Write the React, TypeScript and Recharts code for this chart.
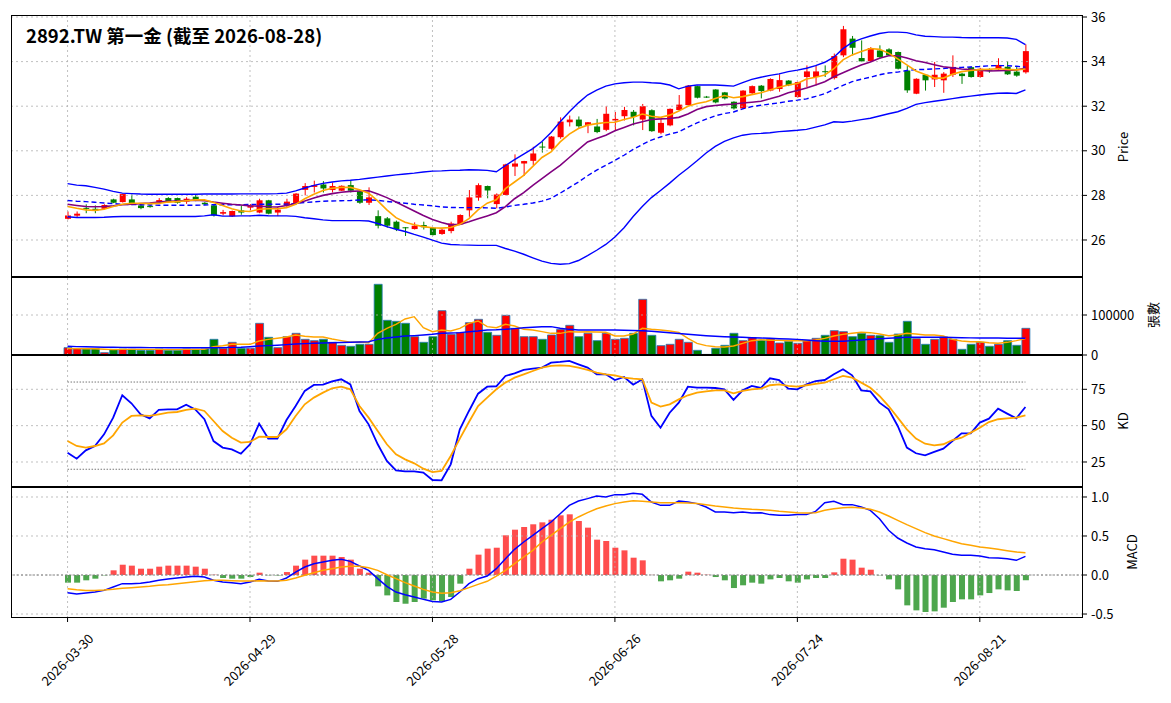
import { Bar, Cell, ComposedChart, Line, ReferenceLine, XAxis, YAxis } from "recharts";

// trading days (Taiwan calendar)
const dates = [
  "2026-03-30", "2026-03-31", "2026-04-01", "2026-04-02", "2026-04-07", "2026-04-08", "2026-04-09", "2026-04-10",
  "2026-04-13", "2026-04-14", "2026-04-15", "2026-04-16", "2026-04-17", "2026-04-20", "2026-04-21", "2026-04-22",
  "2026-04-23", "2026-04-24", "2026-04-27", "2026-04-28", "2026-04-29", "2026-04-30", "2026-05-04", "2026-05-05",
  "2026-05-06", "2026-05-07", "2026-05-08", "2026-05-11", "2026-05-12", "2026-05-13", "2026-05-14", "2026-05-15",
  "2026-05-18", "2026-05-19", "2026-05-20", "2026-05-21", "2026-05-22", "2026-05-25", "2026-05-26", "2026-05-27",
  "2026-05-28", "2026-05-29", "2026-06-01", "2026-06-02", "2026-06-03", "2026-06-04", "2026-06-05", "2026-06-08",
  "2026-06-09", "2026-06-10", "2026-06-11", "2026-06-12", "2026-06-15", "2026-06-16", "2026-06-17", "2026-06-18",
  "2026-06-22", "2026-06-23", "2026-06-24", "2026-06-25", "2026-06-26", "2026-06-29", "2026-06-30", "2026-07-01",
  "2026-07-02", "2026-07-03", "2026-07-06", "2026-07-07", "2026-07-08", "2026-07-09", "2026-07-10", "2026-07-13",
  "2026-07-14", "2026-07-15", "2026-07-16", "2026-07-17", "2026-07-20", "2026-07-21", "2026-07-22", "2026-07-23",
  "2026-07-24", "2026-07-27", "2026-07-28", "2026-07-29", "2026-07-30", "2026-07-31", "2026-08-03", "2026-08-04",
  "2026-08-05", "2026-08-06", "2026-08-07", "2026-08-10", "2026-08-11", "2026-08-12", "2026-08-13", "2026-08-14",
  "2026-08-17", "2026-08-18", "2026-08-19", "2026-08-20", "2026-08-21", "2026-08-24", "2026-08-25", "2026-08-26",
  "2026-08-27", "2026-08-28",
];
const tickDates = ["2026-03-30", "2026-04-29", "2026-05-28", "2026-06-26", "2026-07-24", "2026-08-21"];

const opens = [
  26.95, 27.09, 27.44, 27.4, 27.4, 27.82, 27.7, 27.82, 27.55, 27.52,
  27.67, 27.88, 27.88, 27.72, 27.94, 27.67, 27.55, 27.18, 27.06, 27.33,
  27.45, 27.23, 27.78, 27.23, 27.55, 27.63, 28.25, 28.38, 28.49, 28.24,
  28.21, 28.46, 28.19, 27.67, 27.07, 26.97, 26.82, 26.57, 26.49, 26.67,
  26.55, 26.27, 26.4, 26.7, 27.33, 27.9, 28.42, 27.61, 28.02, 29.29,
  29.43, 29.55, 30.19, 30.09, 30.61, 31.28, 31.4, 31.16, 31.09, 30.94,
  31.36, 31.55, 31.75, 31.4, 31.82, 30.81, 31.14, 31.83, 32.05, 32.9,
  32.43, 32.75, 32.62, 32.2, 31.9, 32.58, 32.92, 32.7, 32.77, 33.15,
  32.41, 33.31, 33.31, 33.57, 33.26, 34.28, 35.03, 34.16, 34.02, 34.5,
  34.55, 34.43, 33.6, 32.56, 33.41, 33.2, 33.16, 33.41, 33.46, 33.75,
  33.31, 33.64, 33.66, 33.77, 33.55, 33.52,
];
const highs = [
  27.28, 27.28, 27.6, 27.55, 27.6, 27.85, 28.08, 28.04, 27.6, 27.58,
  27.88, 27.92, 27.9, 27.92, 28.03, 27.7, 27.57, 27.35, 27.32, 27.55,
  27.61, 27.85, 27.8, 27.48, 27.85, 28.1, 28.55, 28.66, 28.64, 28.58,
  28.45, 28.69, 28.2, 28.36, 27.33, 27.03, 26.87, 26.58, 26.79, 26.82,
  26.57, 26.5, 26.82, 27.15, 28.24, 28.54, 28.44, 28.09, 29.42, 29.84,
  29.55, 30.18, 30.4, 30.66, 31.5, 31.58, 31.54, 31.29, 31.43, 32.0,
  31.74, 31.97, 31.83, 32.1, 31.86, 31.5, 31.9, 32.5, 32.95, 32.92,
  32.46, 32.76, 32.64, 32.22, 32.72, 32.93, 32.95, 33.25, 33.43, 33.17,
  33.1, 33.83, 33.83, 33.83, 34.36, 35.6, 35.15, 34.95, 34.65, 34.73,
  34.6, 34.45, 33.8, 33.25, 33.42, 33.98, 33.53, 34.28, 33.5, 33.78,
  33.72, 33.7, 34.15, 34.02, 33.77, 34.77,
];
const lows = [
  26.92, 27.03, 27.2, 27.2, 27.38, 27.65, 27.68, 27.56, 27.38, 27.45,
  27.63, 27.7, 27.63, 27.62, 27.74, 27.58, 27.05, 27.1, 27.03, 27.13,
  27.33, 27.2, 27.15, 27.07, 27.48, 27.6, 28.0, 28.13, 28.13, 28.13,
  28.2, 28.13, 27.62, 27.57, 26.52, 26.55, 26.4, 26.18, 26.47, 26.47,
  26.2, 26.23, 26.3, 26.68, 27.04, 27.76, 27.87, 27.42, 28.0, 28.87,
  28.87, 29.36, 29.92, 30.05, 30.54, 31.09, 31.03, 30.79, 30.79, 30.88,
  30.92, 31.36, 31.14, 30.93, 30.85, 30.74, 31.1, 31.8, 32.03, 32.35,
  32.37, 32.13, 32.3, 31.85, 31.87, 32.55, 32.35, 32.67, 32.65, 32.9,
  32.38, 32.86, 32.93, 33.31, 33.2, 34.2, 34.28, 33.98, 34.0, 34.13,
  34.25, 33.65, 32.6, 32.54, 32.7, 32.86, 32.6, 33.31, 33.0, 33.28,
  33.28, 33.5, 33.62, 33.4, 33.32, 33.46,
];
const closes = [
  27.1, 27.18, 27.4, 27.32, 27.57, 27.67, 28.06, 27.61, 27.43, 27.48,
  27.79, 27.73, 27.67, 27.85, 27.79, 27.6, 27.1, 27.25, 27.3, 27.23,
  27.55, 27.78, 27.18, 27.36, 27.72, 28.08, 28.42, 28.46, 28.31, 28.42,
  28.43, 28.21, 27.67, 27.91, 26.64, 26.64, 26.49, 26.56, 26.64, 26.57,
  26.22, 26.46, 26.74, 27.12, 27.91, 28.46, 28.22, 28.04, 29.39, 29.43,
  29.54, 29.88, 30.15, 30.64, 31.31, 31.4, 31.1, 31.28, 30.84, 31.66,
  31.43, 31.83, 31.52, 32.0, 30.88, 31.25, 31.88, 32.07, 32.92, 32.38,
  32.39, 32.17, 32.35, 31.9, 32.7, 32.9, 32.68, 33.22, 33.17, 32.94,
  33.08, 33.56, 33.56, 33.55, 34.25, 35.45, 34.62, 34.01, 34.61, 34.2,
  34.28, 33.68, 32.71, 33.23, 33.16, 33.41, 33.46, 33.76, 33.35, 33.31,
  33.68, 33.6, 33.85, 33.43, 33.37, 34.47,
];
const ma5 = [
  27.5, 27.42, 27.35, 27.33, 27.38, 27.5, 27.6, 27.65, 27.65, 27.63,
  27.64, 27.7, 27.72, 27.76, 27.8, 27.8, 27.68, 27.55, 27.4, 27.3,
  27.28, 27.38, 27.4, 27.4, 27.45, 27.6, 27.85, 28.05, 28.22, 28.32,
  28.36, 28.36, 28.25, 28.1, 27.75, 27.35, 27.0, 26.8, 26.68, 26.6,
  26.55, 26.53, 26.56, 26.7, 26.96, 27.35, 27.65, 27.8, 28.3, 28.6,
  28.9, 29.3, 29.7, 29.95, 30.4, 30.75, 31.0, 31.15, 31.22, 31.27,
  31.28, 31.4, 31.5, 31.65, 31.55, 31.5, 31.6, 31.78, 32.0, 32.12,
  32.2, 32.35, 32.48, 32.38, 32.43, 32.52, 32.6, 32.73, 32.85, 32.95,
  33.02, 33.22, 33.3, 33.4, 33.68, 34.08, 34.3, 34.45, 34.59, 34.55,
  34.38, 34.12, 33.85, 33.58, 33.42, 33.26, 33.26, 33.43, 33.55, 33.6,
  33.64, 33.66, 33.68, 33.65, 33.63, 33.67,
];
const ma10 = [
  27.6, 27.55, 27.5, 27.49, 27.5, 27.53, 27.58, 27.6, 27.63, 27.66,
  27.7, 27.73, 27.75, 27.77, 27.78, 27.76, 27.7, 27.65, 27.6, 27.57,
  27.53, 27.52, 27.49, 27.48, 27.55, 27.63, 27.75, 27.88, 28.0, 28.08,
  28.14, 28.18, 28.2, 28.21, 28.06, 27.9, 27.7, 27.5, 27.3, 27.1,
  26.92, 26.78, 26.68, 26.7, 26.82, 26.95, 27.08, 27.22, 27.5, 27.85,
  28.12, 28.45, 28.75, 29.05, 29.35, 29.7, 30.05, 30.4, 30.55, 30.7,
  30.9, 31.05, 31.2, 31.3, 31.4, 31.43, 31.45, 31.5, 31.65, 31.85,
  31.98, 32.03, 32.07, 32.1, 32.14, 32.18, 32.22, 32.33, 32.45, 32.6,
  32.7, 32.82, 32.95, 33.1, 33.32, 33.5, 33.68, 33.85, 33.98, 34.15,
  34.26, 34.26, 34.16, 34.04, 33.96, 33.86, 33.77, 33.72, 33.67, 33.64,
  33.61, 33.58, 33.59, 33.6, 33.63, 33.7,
];
const bbUpper = [
  28.53, 28.46, 28.43, 28.36, 28.28, 28.18, 28.1, 28.08, 28.06, 28.05,
  28.05, 28.05, 28.05, 28.05, 28.05, 28.06, 28.06, 28.06, 28.06, 28.07,
  28.07, 28.07, 28.07, 28.08, 28.1, 28.2, 28.33, 28.45, 28.54, 28.6,
  28.65, 28.68, 28.72, 28.77, 28.82, 28.87, 28.92, 28.96, 29.0, 29.05,
  29.09, 29.1, 29.12, 29.13, 29.15, 29.14, 29.12, 29.06, 29.34, 29.6,
  29.85, 30.1, 30.42, 30.82, 31.3, 31.75, 32.15, 32.5, 32.72, 32.9,
  33.0, 33.05, 33.08, 33.08, 33.05, 33.03, 32.95, 32.78, 32.9, 32.95,
  32.95, 32.95, 32.93, 32.9, 33.06, 33.2, 33.3, 33.38, 33.45, 33.55,
  33.62, 33.7, 33.82, 33.97, 34.2, 34.58, 34.86, 35.02, 35.15, 35.26,
  35.32, 35.32, 35.3, 35.2, 35.14, 35.12, 35.1, 35.1, 35.08, 35.07,
  35.07, 35.07, 35.07, 35.06, 35.0, 34.76,
];
const bbMid = [
  27.77, 27.74, 27.72, 27.69, 27.66, 27.63, 27.6, 27.59, 27.58, 27.57,
  27.56, 27.56, 27.56, 27.56, 27.56, 27.57, 27.58, 27.58, 27.58, 27.58,
  27.59, 27.6, 27.6, 27.6, 27.61, 27.64, 27.68, 27.71, 27.74, 27.75,
  27.76, 27.77, 27.79, 27.8, 27.78, 27.73, 27.69, 27.65, 27.6, 27.57,
  27.53, 27.48, 27.46, 27.45, 27.45, 27.45, 27.44, 27.42, 27.48, 27.55,
  27.6, 27.66, 27.74, 27.87, 28.1, 28.35, 28.6, 28.88, 29.13, 29.35,
  29.57, 29.8, 30.06, 30.28, 30.48, 30.62, 30.75, 30.85, 31.06, 31.25,
  31.42, 31.57, 31.67, 31.74, 31.88, 31.98, 32.04, 32.1, 32.15, 32.22,
  32.27, 32.33, 32.44, 32.56, 32.75, 32.93, 33.1, 33.21, 33.3, 33.41,
  33.49, 33.53, 33.6, 33.64, 33.65, 33.67, 33.69, 33.72, 33.74, 33.76,
  33.78, 33.81, 33.82, 33.82, 33.79, 33.75,
];
const bbLower = [
  27.04, 27.01, 27.01, 27.01, 27.02, 27.04, 27.05, 27.05, 27.05, 27.05,
  27.05, 27.05, 27.05, 27.05, 27.05, 27.08, 27.13, 27.07, 27.07, 27.08,
  27.08, 27.11, 27.09, 27.08, 27.08, 27.06, 27.0, 26.95, 26.9, 26.87,
  26.87, 26.87, 26.87, 26.85, 26.74, 26.6, 26.48, 26.38, 26.25, 26.13,
  25.99, 25.86, 25.8, 25.78, 25.77, 25.76, 25.76, 25.76, 25.62, 25.5,
  25.36, 25.2, 25.05, 24.95, 24.91, 24.94, 25.08, 25.3, 25.54, 25.8,
  26.13, 26.55, 27.05, 27.5, 27.9, 28.22, 28.55, 28.9, 29.22, 29.55,
  29.9, 30.2, 30.42, 30.58, 30.7, 30.76, 30.78, 30.81, 30.86, 30.89,
  30.92, 30.96, 31.06, 31.16, 31.3, 31.28, 31.33, 31.4, 31.46, 31.56,
  31.66, 31.75, 31.9, 32.08, 32.16, 32.22, 32.28, 32.34, 32.4, 32.45,
  32.5, 32.55, 32.58, 32.59, 32.57, 32.73,
];

const volumes = [
  18300, 15800, 15800, 15800, 5800, 14200, 15000, 14200, 11700, 11700,
  15000, 11700, 11700, 15000, 14200, 15000, 39200, 16700, 31700, 16700,
  16700, 79200, 44200, 18300, 45800, 54200, 39200, 35800, 39200, 31700,
  24200, 21700, 26700, 26700, 176700, 86700, 84200, 79200, 45800, 31700,
  45800, 110800, 51700, 55800, 80800, 89200, 56700, 49200, 99200, 66700,
  45800, 45800, 39200, 50000, 64200, 74200, 45800, 54200, 35800, 54200,
  39200, 41700, 54200, 139200, 49200, 23300, 26700, 39200, 31700, 11700,
  1500, 16700, 24200, 54200, 35800, 43300, 36700, 40000, 30000, 34200,
  29200, 35800, 41700, 49200, 60800, 58300, 45800, 54200, 49200, 48300,
  31700, 52500, 84200, 40800, 26700, 39200, 45000, 39200, 14200, 26700,
  31700, 21700, 26700, 35800, 24200, 66700,
];
const volMa5 = [
  16000, 16000, 15500, 15500, 14500, 13500, 14000, 14000, 14000, 14000,
  14000, 13500, 13500, 14000, 14000, 14000, 20800, 23000, 26700, 26700,
  26700, 35000, 39200, 42000, 45000, 50000, 47000, 45000, 45000, 40000,
  35800, 32000, 32500, 30800, 54200, 66700, 76700, 90000, 95800, 68300,
  58300, 62500, 60000, 66700, 79200, 85000, 70800, 68300, 76700, 72500,
  64200, 62500, 58300, 54200, 54200, 58300, 57500, 58300, 57500, 56700,
  47500, 47500, 52500, 66700, 64200, 62500, 60000, 56700, 41700, 29200,
  23300, 20800, 20000, 22500, 29200, 35800, 38300, 36700, 36700, 35800,
  35800, 35800, 37500, 41700, 47500, 51700, 54200, 56700, 55800, 52500,
  48300, 50000, 54200, 52500, 50000, 50000, 47500, 39200, 35000, 33300,
  33300, 30800, 29200, 31700, 35800, 40800,
];
const volMa20 = [
  21700, 21000, 20500, 20000, 19500, 19200, 19000, 18800, 18600, 18500,
  18400, 18300, 18300, 18300, 18300, 18300, 18300, 18400, 19000, 19500,
  20800, 22500, 23500, 24500, 26000, 27500, 28500, 29500, 30000, 30800,
  31200, 31700, 32500, 33300, 39200, 42500, 45000, 47500, 48500, 50000,
  51700, 54200, 55000, 56000, 58300, 60000, 62500, 63000, 64200, 66000,
  68000, 69500, 70800, 70800, 67000, 64200, 62500, 62500, 62500, 62500,
  62500, 61700, 61200, 60800, 59200, 57500, 55800, 53800, 51700, 50000,
  48300, 47000, 45800, 45000, 44200, 43300, 42500, 41700, 40800, 40000,
  39000, 37500, 35800, 34500, 34200, 34500, 36000, 37500, 39200, 40800,
  42000, 43300, 44200, 44200, 44200, 44200, 44200, 43800, 43300, 42800,
  42500, 42500, 42500, 42000, 41700, 41700,
];

const kValues = [
  31.4, 27.3, 33.0, 36.0, 44.0, 55.5, 70.9, 65.4, 57.8, 55.0,
  60.8, 61.2, 61.2, 64.4, 61.2, 54.4, 39.4, 34.9, 33.7, 30.7,
  37.2, 51.4, 41.1, 41.1, 53.9, 63.5, 73.9, 78.0, 78.2, 80.5,
  81.9, 78.4, 60.1, 50.9, 37.2, 25.7, 19.3, 18.6, 18.6, 17.7,
  12.6, 12.4, 23.4, 47.5, 60.1, 72.0, 76.8, 77.1, 84.2, 86.0,
  88.3, 89.2, 89.9, 93.3, 93.8, 94.5, 92.2, 89.9, 85.3, 85.3,
  81.4, 83.5, 78.2, 81.9, 56.7, 48.6, 58.9, 65.8, 76.8, 76.1,
  76.1, 75.9, 75.0, 67.7, 74.3, 77.3, 75.9, 82.6, 81.4, 75.5,
  75.0, 78.4, 80.7, 81.4, 85.3, 88.8, 84.6, 74.3, 73.6, 65.8,
  61.2, 49.8, 34.9, 31.0, 29.6, 31.9, 34.2, 39.4, 44.7, 44.7,
  52.1, 54.8, 61.7, 58.3, 55.0, 62.8,
];
const dValues = [
  39.4, 36.0, 34.9, 36.0, 37.8, 43.3, 52.1, 56.7, 57.1, 56.7,
  57.8, 58.9, 59.4, 60.8, 61.7, 60.1, 53.2, 46.3, 41.7, 38.3,
  38.8, 42.4, 42.2, 42.2, 47.5, 56.7, 64.7, 69.3, 72.7, 75.7,
  76.8, 75.0, 63.5, 55.5, 46.3, 37.2, 30.3, 26.8, 24.1, 20.4,
  18.1, 18.8, 29.1, 41.1, 52.5, 63.5, 69.3, 75.0, 79.6, 83.0,
  85.3, 87.6, 89.9, 91.1, 91.5, 91.1, 89.9, 88.3, 86.5, 85.3,
  84.6, 83.0, 82.3, 81.9, 65.8, 63.1, 64.7, 68.1, 70.9, 72.7,
  73.6, 74.3, 74.3, 72.2, 73.9, 75.0, 75.5, 77.8, 78.4, 77.3,
  76.8, 77.8, 78.7, 79.6, 81.9, 84.2, 83.0, 79.6, 76.1, 70.4,
  63.5, 55.5, 47.5, 41.1, 37.6, 36.5, 37.2, 40.1, 41.7, 45.2,
  48.6, 52.5, 54.4, 55.0, 55.5, 57.1,
];

const dif = [
  -0.226, -0.244, -0.231, -0.218, -0.197, -0.154, -0.111, -0.111, -0.107, -0.09,
  -0.068, -0.051, -0.038, -0.026, -0.017, -0.026, -0.068, -0.09, -0.098, -0.111,
  -0.09, -0.056, -0.077, -0.081, -0.038, 0.038, 0.103, 0.145, 0.167, 0.188,
  0.201, 0.175, 0.115, 0.06, -0.047, -0.145, -0.218, -0.252, -0.282, -0.312,
  -0.338, -0.346, -0.312, -0.218, -0.111, -0.047, -0.013, 0.081, 0.209, 0.329,
  0.423, 0.509, 0.594, 0.679, 0.786, 0.893, 0.949, 0.979, 1.013, 1.0,
  1.03, 1.03, 1.047, 1.034, 0.936, 0.893, 0.893, 0.949, 0.936, 0.915,
  0.872, 0.808, 0.808, 0.799, 0.808, 0.795, 0.799, 0.774, 0.765, 0.765,
  0.774, 0.774, 0.816, 0.927, 0.944, 0.902, 0.902, 0.872, 0.829, 0.722,
  0.573, 0.474, 0.41, 0.359, 0.338, 0.325, 0.295, 0.265, 0.252, 0.252,
  0.244, 0.222, 0.218, 0.209, 0.188, 0.239,
];
const dea = [
  -0.175, -0.188, -0.197, -0.197, -0.192, -0.184, -0.171, -0.162, -0.154, -0.145,
  -0.132, -0.124, -0.111, -0.098, -0.085, -0.073, -0.068, -0.068, -0.073, -0.077,
  -0.077, -0.073, -0.077, -0.077, -0.068, -0.038, -0.004, 0.03, 0.06, 0.081,
  0.103, 0.111, 0.111, 0.094, 0.06, 0.004, -0.047, -0.098, -0.141, -0.184,
  -0.218, -0.235, -0.226, -0.201, -0.162, -0.12, -0.081, -0.013, 0.06, 0.145,
  0.231, 0.316, 0.423, 0.509, 0.594, 0.679, 0.744, 0.799, 0.85, 0.885,
  0.915, 0.936, 0.953, 0.944, 0.936, 0.927, 0.927, 0.927, 0.923, 0.915,
  0.902, 0.885, 0.872, 0.859, 0.85, 0.842, 0.838, 0.829, 0.816, 0.808,
  0.799, 0.795, 0.799, 0.829, 0.85, 0.863, 0.868, 0.859, 0.842, 0.808,
  0.756, 0.701, 0.645, 0.594, 0.543, 0.5, 0.466, 0.432, 0.402, 0.38,
  0.359, 0.346, 0.329, 0.312, 0.295, 0.286,
];
const histValues = [
  -0.098, -0.098, -0.068, -0.047, -0.005, 0.06, 0.132, 0.12, 0.081, 0.081,
  0.107, 0.12, 0.12, 0.12, 0.107, 0.081, 0.004, -0.038, -0.047, -0.047,
  -0.026, 0.03, -0.004, -0.006, 0.038, 0.12, 0.197, 0.248, 0.248, 0.248,
  0.231, 0.197, 0.081, 0.03, -0.145, -0.261, -0.346, -0.368, -0.346, -0.303,
  -0.325, -0.338, -0.282, -0.111, 0.081, 0.261, 0.338, 0.35, 0.509, 0.581,
  0.615, 0.65, 0.675, 0.709, 0.765, 0.778, 0.692, 0.607, 0.453, 0.436,
  0.35, 0.316, 0.222, 0.188, 0.002, -0.081, -0.068, -0.047, 0.043, 0.03,
  0.004, -0.026, -0.068, -0.167, -0.132, -0.098, -0.111, -0.056, -0.038, -0.081,
  -0.098, -0.056, -0.038, -0.038, 0.034, 0.209, 0.197, 0.094, 0.068, -0.004,
  -0.056, -0.184, -0.389, -0.453, -0.474, -0.466, -0.419, -0.346, -0.312, -0.312,
  -0.261, -0.231, -0.184, -0.197, -0.205, -0.068,
];

const priceTicks = [26, 28, 30, 32, 34, 36];
const volTicks = [0, 100000];
const kdTicks = [25, 50, 75];
const macdTicks = [-0.5, 0, 0.5, 1.0];

const rows = dates.map((date, i) => ({
  date,
  open: opens[i],
  high: highs[i],
  low: lows[i],
  close: closes[i],
  ma5: ma5[i],
  ma10: ma10[i],
  upper: bbUpper[i],
  mid: bbMid[i],
  lower: bbLower[i],
  vol: volumes[i],
  volMa5: volMa5[i],
  volMa20: volMa20[i],
  k: kValues[i],
  d: dValues[i],
  dif: dif[i],
  dea: dea[i],
  hist: histValues[i],
}));

const W = 1171;
const PLOT_L = 11;
const PLOT_R = 1083;
const AXIS_W = 60;
const MARGIN_R = W - PLOT_R - AXIS_W;
const X_PAD = { left: 52, right: 53 };
const FONT = '"Noto Sans CJK TC", "DejaVu Sans", sans-serif';
const UP = "#ff0000";
const DOWN = "#008000";
const gridStyle = { stroke: "#b0b0b0", strokeDasharray: "2 3", strokeWidth: 0.8 };
const tickStyle = { fontSize: 13, fill: "#000", fontFamily: FONT };

const Candle = (props: any) => {
  const { x, width, payload } = props;
  let { y, height } = props;
  if (height < 0) {
    y += height;
    height = -height;
  }
  const { open, close, high, low } = payload;
  const color = close >= open ? UP : DOWN;
  const ratio = high > low ? height / (high - low) : 0;
  const yOf = (v: number) => y + (high - v) * ratio;
  const top = yOf(Math.max(open, close));
  const bot = yOf(Math.min(open, close));
  const cx = x + width / 2;
  return (
    <g>
      <line x1={cx} x2={cx} y1={y} y2={y + height} stroke={color} strokeWidth={1} />
      <rect x={x} y={top} width={width} height={Math.max(bot - top, 1)} fill={color} />
    </g>
  );
};

// matplotlib-style rotated label, centred under its tick
const DateTick = ({ x, y, payload }: any) => {
  const py = y + 36;
  return (
    <text
      x={x}
      y={py}
      dy="0.35em"
      transform={`rotate(-45 ${x} ${py})`}
      textAnchor="middle"
      fontSize={13}
      fontFamily={FONT}
      fill="#000"
    >
      {payload.value}
    </text>
  );
};

function xAxisHidden() {
  return <XAxis dataKey="date" scale="band" padding={X_PAD} hide />;
}

function vGrid() {
  return tickDates.map((d) => <ReferenceLine key={`v${d}`} x={d} {...gridStyle} />);
}

function hGrid(ticks: number[]) {
  return ticks.map((t) => <ReferenceLine key={`h${t}`} y={t} {...gridStyle} />);
}

function yAxis(domain: [number, number], ticks: number[], fmt?: (v: number) => string) {
  return (
    <YAxis
      orientation="right"
      width={AXIS_W}
      domain={domain}
      ticks={ticks}
      allowDataOverflow
      axisLine={false}
      tickLine={{ stroke: "#000" }}
      tickSize={4}
      tickMargin={4}
      tick={tickStyle}
      tickFormatter={fmt}
      interval={0}
    />
  );
}

const frame = (top: number, height: number) => (
  <div
    style={{
      position: "absolute",
      left: PLOT_L,
      top,
      width: PLOT_R - PLOT_L,
      height,
      border: "1px solid #000",
      boxSizing: "border-box",
      pointerEvents: "none",
    }}
  />
);

const yLabel = (text: string, cx: number, cy: number) => (
  <div
    style={{
      position: "absolute",
      left: cx,
      top: cy,
      transform: "translate(-50%, -50%) rotate(-90deg)",
      fontSize: 13,
      whiteSpace: "nowrap",
      fontFamily: FONT,
    }}
  >
    {text}
  </div>
);

const lineProps = { dot: false, activeDot: false, isAnimationActive: false, type: "linear" as const };

export default function App() {
  return (
    <div
      style={{
        position: "absolute",
        left: 0,
        top: 0,
        width: W,
        height: 703,
        background: "#fff",
        fontFamily: FONT,
        overflow: "hidden",
      }}
    >
      {/* price panel */}
      <div style={{ position: "absolute", left: 0, top: 0 }}>
        <ComposedChart width={W} height={277} data={rows} margin={{ top: 15, right: MARGIN_R, bottom: 0, left: PLOT_L }}>
          {xAxisHidden()}
          {yAxis([24.34, 36.09], priceTicks)}
          {vGrid()}
          {hGrid(priceTicks)}
          <Bar dataKey={(d: any) => [d.low, d.high]} barSize={6} shape={Candle} isAnimationActive={false} />
          <Line dataKey="upper" stroke="#0000ff" strokeWidth={1.4} {...lineProps} />
          <Line dataKey="lower" stroke="#0000ff" strokeWidth={1.4} {...lineProps} />
          <Line dataKey="mid" stroke="#0000ff" strokeWidth={1.4} strokeDasharray="5 3" {...lineProps} />
          <Line dataKey="ma10" stroke="#800080" strokeWidth={1.6} {...lineProps} />
          <Line dataKey="ma5" stroke="#ffa500" strokeWidth={1.6} {...lineProps} />
        </ComposedChart>
      </div>

      {/* volume panel (extra bottom room so the 0 label is not clipped) */}
      <div style={{ position: "absolute", left: 0, top: 277 }}>
        <ComposedChart width={W} height={90} data={rows} margin={{ top: 0, right: MARGIN_R, bottom: 12, left: PLOT_L }}>
          {xAxisHidden()}
          {yAxis([0, 195000], volTicks)}
          {vGrid()}
          {hGrid(volTicks)}
          <Bar dataKey="vol" barSize={8} stroke="#1f77b4" strokeWidth={0.8} isAnimationActive={false}>
            {rows.map((r) => (
              <Cell key={r.date} fill={r.close >= r.open ? UP : DOWN} />
            ))}
          </Bar>
          <Line dataKey="volMa5" stroke="#ffa500" strokeWidth={1.4} {...lineProps} />
          <Line dataKey="volMa20" stroke="#0000ff" strokeWidth={1.4} {...lineProps} />
        </ComposedChart>
      </div>

      {/* KD panel */}
      <div style={{ position: "absolute", left: 0, top: 355 }}>
        <ComposedChart width={W} height={132} data={rows} margin={{ top: 0, right: MARGIN_R, bottom: 0, left: PLOT_L }}>
          {xAxisHidden()}
          {yAxis([7.8, 98.6], kdTicks)}
          {vGrid()}
          {hGrid(kdTicks)}
          <ReferenceLine
            segment={[{ x: dates[0], y: 80 }, { x: dates[dates.length - 1], y: 80 }]}
            stroke="#666"
            strokeDasharray="1.5 1.5"
            strokeWidth={0.9}
          />
          <ReferenceLine
            segment={[{ x: dates[0], y: 20 }, { x: dates[dates.length - 1], y: 20 }]}
            stroke="#666"
            strokeDasharray="1.5 1.5"
            strokeWidth={0.9}
          />
          <Line dataKey="k" stroke="#0000ff" strokeWidth={1.8} {...lineProps} />
          <Line dataKey="d" stroke="#ffa500" strokeWidth={1.8} {...lineProps} />
        </ComposedChart>
      </div>

      {/* MACD panel */}
      <div style={{ position: "absolute", left: 0, top: 487 }}>
        <ComposedChart width={W} height={216} data={rows} margin={{ top: 0, right: MARGIN_R, bottom: 0, left: PLOT_L }}>
          <XAxis
            dataKey="date"
            scale="band"
            padding={X_PAD}
            ticks={tickDates}
            interval={0}
            height={85}
            axisLine={false}
            tickLine={{ stroke: "#000" }}
            tickSize={4}
            tick={<DateTick />}
          />
          {yAxis([-0.551, 1.128], macdTicks, (v) => v.toFixed(1))}
          {vGrid()}
          {hGrid(macdTicks)}
          <ReferenceLine y={0} stroke="#777" strokeDasharray="2 2" strokeWidth={0.9} />
          <Bar dataKey="hist" barSize={6} isAnimationActive={false}>
            {rows.map((r) => (
              <Cell key={r.date} fill={r.hist >= 0 ? "#ff4d4d" : "#4da64d"} />
            ))}
          </Bar>
          <Line dataKey="dif" stroke="#0000ff" strokeWidth={1.5} {...lineProps} />
          <Line dataKey="dea" stroke="#ffa500" strokeWidth={1.5} {...lineProps} />
        </ComposedChart>
      </div>

      {frame(15, 262)}
      {frame(277, 78)}
      {frame(355, 132)}
      {frame(487, 131)}

      <div
        style={{
          position: "absolute",
          left: 26,
          top: 23,
          fontSize: 18.5,
          fontWeight: 600,
          lineHeight: "24px",
          whiteSpace: "nowrap",
          fontFamily: FONT,
        }}
      >
        2892.TW 第一金 (截至 2026-08-28)
      </div>

      {yLabel("Price", 1122, 147)}
      {yLabel("張數", 1152, 315)}
      {yLabel("KD", 1122, 421)}
      {yLabel("MACD", 1131, 552)}
    </div>
  );
}
